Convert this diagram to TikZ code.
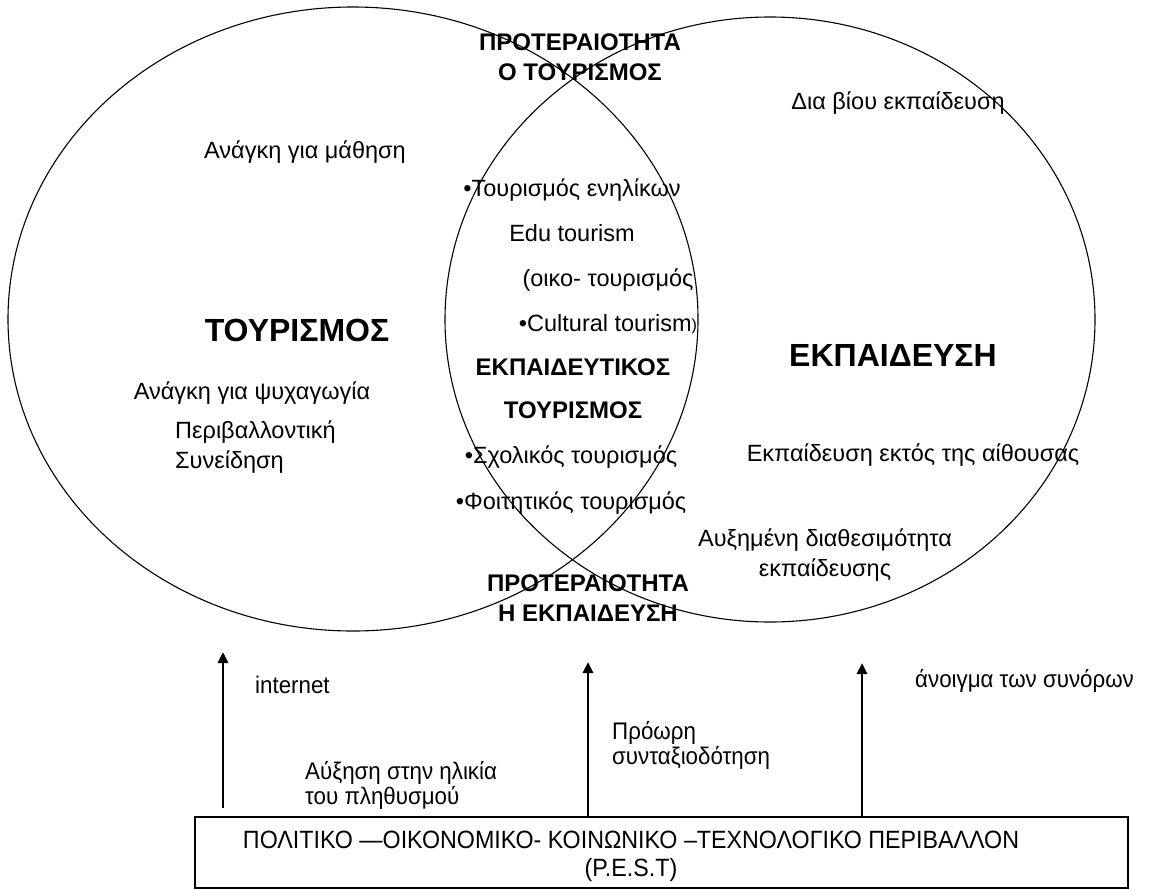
\documentclass[tikz,border=0pt]{standalone}
\usepackage{fontspec}
\setmainfont{Liberation Sans}
\newfontfamily\narrowfont{Liberation Sans}[FakeStretch=0.93]
\usetikzlibrary{shapes.geometric,arrows.meta}
\tikzset{
  venn/.style={draw, ellipse, line width=1.1pt, inner sep=0pt},
  txt/.style={inner sep=0pt, font=\fontsize{23.5}{28}\selectfont},
  bigbold/.style={inner sep=0pt, font=\fontsize{32}{36}\selectfont\bfseries},
  midbold/.style={inner sep=0pt, font=\fontsize{24}{30}\selectfont\bfseries, align=center},
  lowtxt/.style={inner sep=0pt, anchor=west, font=\narrowfont\fontsize{24}{25}\selectfont, align=left},
  uparrow/.style={line width=2.6pt, -{Triangle[length=11pt,width=10pt]}},
}
\begin{document}
\begin{tikzpicture}[x=1pt,y=-1pt]
\useasboundingbox (0,0) rectangle (1150,889);
% ellipses
\node[venn, minimum width=690pt, minimum height=624pt] (tour) at (353,319) {};
\node[venn, minimum width=650pt, minimum height=605pt] (edu) at (770,319.5) {};
% top / bottom priority labels
\node[midbold] (prio1) at (580,57) {ΠΡΟΤΕΡΑΙΟΤΗΤΑ\\Ο ΤΟΥΡΙΣΜΟΣ};
\node[midbold] (prio2) at (588,598) {ΠΡΟΤΕΡΑΙΟΤΗΤΑ\\Η ΕΚΠΑΙΔΕΥΣΗ};
% left circle
\node[txt] (t1) at (305,152) {Ανάγκη για μάθηση};
\node[bigbold] (tmain) at (297,330) {ΤΟΥΡΙΣΜΟΣ};
\node[txt] (t2) at (252,393) {Ανάγκη για ψυχαγωγία};
\node[txt, anchor=west, align=left, font=\fontsize{23.5}{30}\selectfont] (t3) at (175,447) {Περιβαλλοντική\\Συνείδηση};
% lens
\node[txt] (l1) at (572,190) {•Τουρισμός ενηλίκων};
\node[txt] (l2) at (572,233) {Edu tourism};
\node[txt] (l3) at (608,280) {(οικο- τουρισμός};
\node[txt] (l4) at (608,324) {•Cultural tourism\raisebox{0.5pt}{\fontsize{16}{16}\selectfont)}};
\node[midbold, font=\fontsize{24}{43}\selectfont\bfseries] (lmain) at (573,389) {ΕΚΠΑΙΔΕΥΤΙΚΟΣ\\ΤΟΥΡΙΣΜΟΣ};
\node[txt] (l5) at (571,457) {•Σχολικός τουρισμός};
\node[txt] (l6) at (571,503) {•Φοιτητικός τουρισμός};
% right circle
\node[txt] (e1) at (898,103) {Δια βίου εκπαίδευση};
\node[bigbold] (emain) at (893,355) {ΕΚΠΑΙΔΕΥΣΗ};
\node[txt] (e2) at (913,455) {Εκπαίδευση εκτός της αίθουσας};
\node[txt, align=center, font=\fontsize{23.5}{30}\selectfont] (e3) at (825,555) {Αυξημένη διαθεσιμότητα\\εκπαίδευσης};
% PEST box
\node[draw, line width=1.1pt, minimum width=933pt, minimum height=71pt, inner sep=0pt] (pest) at (661.5,852.5) {};
\node[inner sep=0pt, align=center, font=\narrowfont\fontsize{25}{28}\selectfont] (pesttxt) at (631,856) {ΠΟΛΙΤΙΚΟ —ΟΙΚΟΝΟΜΙΚΟ- ΚΟΙΝΩΝΙΚΟ –ΤΕΧΝΟΛΟΓΙΚΟ ΠΕΡΙΒΑΛΛΟΝ\\(P.E.S.T)};
% arrows
\coordinate (a1s) at (223,808);
\coordinate (a1e) at (223,652);
\coordinate (a2e) at (588,662);
\coordinate (a3e) at (862,663);
\draw[uparrow] (a1s) -- (a1e);
\draw[uparrow] (pest.north -| a2e) -- (a2e);
\draw[uparrow] (pest.north -| a3e) -- (a3e);
% lower labels
\node[lowtxt] (b1) at (255,685) {internet};
\node[lowtxt] (b2) at (915,681) {άνοιγμα των συνόρων};
\node[lowtxt] (b3) at (612,745.5) {Πρόωρη\\συνταξιοδότηση};
\node[lowtxt] (b4) at (305,785.5) {Αύξηση στην ηλικία\\του πληθυσμού};
\end{tikzpicture}
\end{document}
